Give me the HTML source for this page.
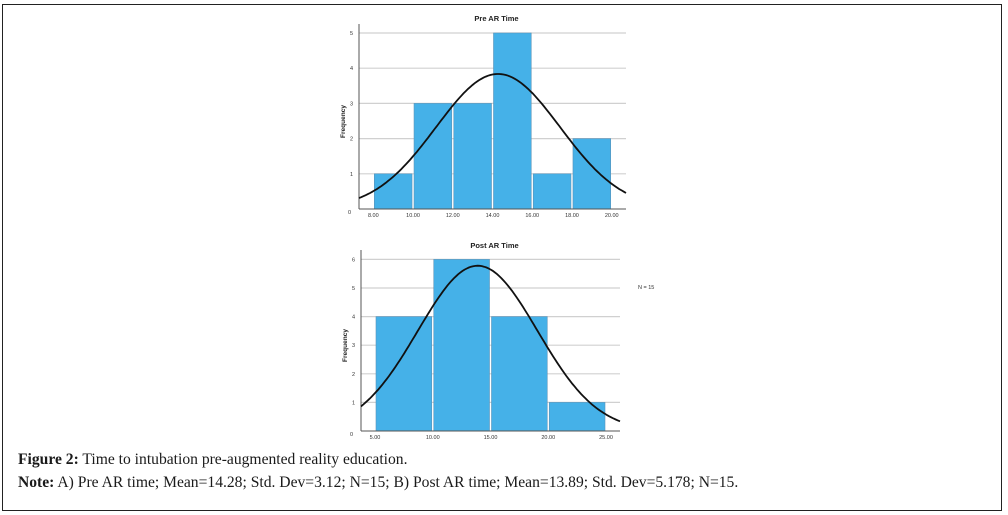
<!DOCTYPE html>
<html><head><meta charset="utf-8"><style>
body{margin:0;width:1008px;height:515px;background:#fff;overflow:hidden;position:relative;font-family:"Liberation Sans",sans-serif}
#frame{position:absolute;left:2px;top:4px;width:998px;height:505px;border:1.5px solid #222}
.cap{position:absolute;left:18px;font-family:"Liberation Serif",serif;font-size:15.6px;color:#1a1a1a;white-space:nowrap}
</style></head><body>
<div id="frame"></div>
<svg id="svg" width="1008" height="515" style="position:absolute;left:0;top:0"></svg>
<div class="cap" style="top:451px"><b>Figure 2:</b> Time to intubation pre-augmented reality education.</div>
<div class="cap" style="top:474px"><b>Note:</b> A) Pre AR time; Mean=14.28; Std. Dev=3.12; N=15; B) Post AR time; Mean=13.89; Std. Dev=5.178; N=15.</div>
<script>
const preBins=[8,10,12,14,16,18,20];
const preCounts=[1,3,3,5,1,2];
const preTicks=["8.00","10.00","12.00","14.00","16.00","18.00","20.00"];
const preStats=[14.28,3.12,15];
const postBins=[5,10,15,20,25];
const postCounts=[4,6,4,1];
const postTicks=["5.00","10.00","15.00","20.00","25.00"];
const postStats=[13.89,5.178,15];
const NS="http://www.w3.org/2000/svg";
const svg=document.getElementById('svg');
function mk(t,a){const e=document.createElementNS(NS,t);for(const k in a)e.setAttribute(k,a[k]);svg.appendChild(e);return e;}
function chart(cfg){
 const {bins,counts,ticks,stats,ax,right,x0,x1,base,unit,top,ymax,title,titleY,name}=cfg;
 const X=v=>x0+(v-bins[0])*(x1-x0)/(bins[bins.length-1]-bins[0]);
 const Y=v=>base-v*unit;
 for(let i=1;i<=ymax;i++){
  const g=mk('line',{x1:ax,x2:right,y1:Y(i),y2:Y(i),stroke:'#d0d0d0','stroke-width':1.2});
  
  const t=mk('text',{x:ax-6,y:Y(i)+2,'font-size':5.5,'text-anchor':'end',fill:'#333'});t.textContent=i;
  
 }
 const z=mk('text',{x:ax-8,y:base+5,'font-size':5.5,'text-anchor':'end',fill:'#333'});z.textContent='0';
 
 counts.forEach((c,i)=>{
  const r=mk('rect',{x:X(bins[i])+1,y:Y(c),width:X(bins[i+1])-X(bins[i])-2,height:Y(0)-Y(c),fill:'#45b1e8',stroke:'#5a93b8','stroke-width':0.6});
  
 });
 mk('line',{x1:ax,x2:ax,y1:top,y2:base,stroke:'#555','stroke-width':1});
 mk('line',{x1:ax,x2:right,y1:base,y2:base,stroke:'#555','stroke-width':1});
 bins.forEach((b,i)=>{
  const t=mk('text',{x:X(b),y:base+8,'font-size':5.5,'text-anchor':'middle',fill:'#333'});t.textContent=ticks[i];
  
 });
 const [m,sd,n]=stats,bw=bins[1]-bins[0];
 const xv0=bins[0]-(x0-ax)*(bins[bins.length-1]-bins[0])/(x1-x0);
 const xv1=bins[bins.length-1]+(right-x1)*(bins[bins.length-1]-bins[0])/(x1-x0);
 let d='';for(let k=0;k<=120;k++){const v=xv0+(xv1-xv0)*k/120;const f=n*bw/(sd*Math.sqrt(2*Math.PI))*Math.exp(-0.5*((v-m)/sd)**2);d+=(k?'L':'M')+X(v).toFixed(1)+' '+Y(f).toFixed(1);}
 const p=mk('path',{d,fill:'none',stroke:'#111','stroke-width':1.8});
 
 const tt=mk('text',{x:(ax+right)/2+4,y:titleY,'font-size':7.5,'font-weight':'bold','text-anchor':'middle',fill:'#222'});tt.textContent=title;
 
 const yl=mk('text',{x:0,y:0,'font-size':6.5,'font-weight':'bold','text-anchor':'middle',fill:'#222',transform:`translate(${ax-14},${(top+base)/2+5}) rotate(-90)`});yl.textContent='Frequency';
 
}
chart({bins:preBins,counts:preCounts,ticks:preTicks,stats:preStats,ax:359,right:626,x0:373.3,x1:611.7,base:209,unit:35.2,top:24,ymax:5,title:'Pre AR Time',titleY:21,name:'pre-ar'});
chart({bins:postBins,counts:postCounts,ticks:postTicks,stats:postStats,ax:361,right:620,x0:375,x1:606,base:431,unit:28.6,top:250,ymax:6,title:'Post AR Time',titleY:248,name:'post-ar'});
const nn=mk('text',{x:638,y:289,'font-size':5.5,fill:'#333'});nn.textContent='N = 15';

</script>
</body></html>
